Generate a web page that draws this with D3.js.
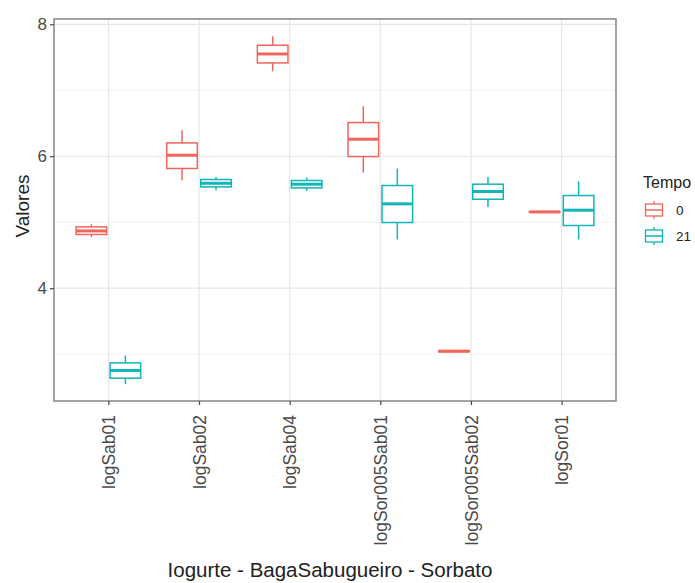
<!DOCTYPE html>
<html>
<head>
<meta charset="utf-8">
<script src="https://cdn.jsdelivr.net/npm/d3@7"></script>
<style>
  html, body { margin: 0; padding: 0; background: #fff; }
  svg text { font-family: "Liberation Sans", Arial, Helvetica, sans-serif; }
</style>
</head>
<body>
<svg id="chart" width="695" height="583"></svg>
<script>
// Treatments on the x axis
const categories = ["logSab01", "logSab02", "logSab04", "logSor005Sab01", "logSor005Sab02", "logSor01"];
// Storage time groups (days)
const tempos = ["0", "21"];

// Five-number summaries per treatment: [lower whisker, Q1, median, Q3, upper whisker]
const tempo0 = [
  [4.773, 4.814, 4.868, 4.929, 4.970],
  [5.636, 5.814, 6.015, 6.202, 6.394],
  [7.288, 7.414, 7.550, 7.682, 7.818],
  [5.753, 5.995, 6.258, 6.510, 6.758],
  [3.035, 3.037, 3.045, 3.053, 3.055],
  [5.150, 5.152, 5.156, 5.160, 5.162]
];
const tempo21 = [
  [2.545, 2.636, 2.753, 2.868, 2.980],
  [5.485, 5.535, 5.590, 5.647, 5.686],
  [5.474, 5.520, 5.576, 5.632, 5.677],
  [4.738, 4.995, 5.278, 5.556, 5.814],
  [5.232, 5.348, 5.465, 5.576, 5.686],
  [4.738, 4.950, 5.182, 5.404, 5.621]
];

const yTicks = [4, 6, 8];
const yMinor = [3, 5, 7];
const colors = ["#F0665F", "#12B5B8"];

const svg = d3.select("#chart");
const panel = { left: 54, right: 616, top: 19, bottom: 401 };

// Discrete x positions with ggplot-style expansion (0.6 of a step on each side)
const step = (panel.right - panel.left) / (categories.length - 1 + 1.2);
const xc = d3.scalePoint()
  .domain(categories)
  .range([panel.left + 0.6 * step, panel.right - 0.6 * step]);

const y = d3.scaleLinear().domain([2.29, 8.08]).range([panel.bottom, panel.top]);

// Dodge within each category
const dodge = d3.scaleBand().domain(tempos).range([-0.375 * step, 0.375 * step]).paddingInner(0);
const boxW = dodge.bandwidth() * 0.9;

const g = svg.append("g");

// minor grid
g.selectAll("line.minor").data(yMinor).join("line")
  .attr("x1", panel.left).attr("x2", panel.right)
  .attr("y1", d => y(d)).attr("y2", d => y(d))
  .attr("stroke", "#f3f3f3").attr("stroke-width", 1);

// major grid
g.selectAll("line.majorY").data(yTicks).join("line")
  .attr("x1", panel.left).attr("x2", panel.right)
  .attr("y1", d => y(d)).attr("y2", d => y(d))
  .attr("stroke", "#e6e6e6").attr("stroke-width", 1.2);
g.selectAll("line.majorX").data(categories).join("line")
  .attr("x1", d => xc(d)).attr("x2", d => xc(d))
  .attr("y1", panel.top).attr("y2", panel.bottom)
  .attr("stroke", "#e6e6e6").attr("stroke-width", 1.2);

// boxes
const series = [tempo0, tempo21];
series.forEach((vals, si) => {
  const col = colors[si];
  const grp = g.append("g");
  vals.forEach((s, i) => {
    const cx = xc(categories[i]) + dodge(tempos[si]) + dodge.bandwidth() / 2;
    const [lo, q1, med, q3, hi] = s;
    grp.append("line").attr("x1", cx).attr("x2", cx)
      .attr("y1", y(hi)).attr("y2", y(q3)).attr("stroke", col).attr("stroke-width", 1.5);
    grp.append("line").attr("x1", cx).attr("x2", cx)
      .attr("y1", y(q1)).attr("y2", y(lo)).attr("stroke", col).attr("stroke-width", 1.5);
    grp.append("rect")
      .attr("x", cx - boxW / 2).attr("width", boxW)
      .attr("y", y(q3)).attr("height", Math.max(0, y(q1) - y(q3)))
      .attr("fill", "#fff").attr("stroke", col).attr("stroke-width", 1.5);
    grp.append("line")
      .attr("x1", cx - boxW / 2).attr("x2", cx + boxW / 2)
      .attr("y1", y(med)).attr("y2", y(med))
      .attr("stroke", col).attr("stroke-width", 3);
  });
});

// panel border
g.append("rect")
  .attr("x", panel.left).attr("y", panel.top)
  .attr("width", panel.right - panel.left).attr("height", panel.bottom - panel.top)
  .attr("fill", "none").attr("stroke", "#858585").attr("stroke-width", 1.5);

// y axis
const yAxis = d3.axisLeft(y).tickValues(yTicks).tickFormat(d3.format("d")).tickSize(4).tickPadding(3);
const ya = svg.append("g").attr("transform", `translate(${panel.left},0)`).call(yAxis);
ya.select(".domain").remove();
ya.selectAll(".tick line").attr("stroke", "#444").attr("stroke-width", 1.2);
ya.selectAll(".tick text").attr("font-size", 17).attr("fill", "#4a4a4a")
  .attr("font-family", "Liberation Sans, Arial, sans-serif");

// x axis
const xAxis = d3.axisBottom(xc).tickSize(4).tickPadding(6);
const xa = svg.append("g").attr("transform", `translate(0,${panel.bottom})`).call(xAxis);
xa.select(".domain").remove();
xa.selectAll(".tick line").attr("stroke", "#444").attr("stroke-width", 1.2);
xa.selectAll(".tick text")
  .attr("font-size", 17.5).attr("fill", "#4a4a4a")
  .attr("font-family", "Liberation Sans, Arial, sans-serif")
  .attr("transform", "rotate(-90)")
  .attr("text-anchor", "end")
  .attr("x", -14).attr("y", 0).attr("dy", "0.35em");

// axis titles
svg.append("text")
  .attr("transform", `translate(${29},${206}) rotate(-90)`)
  .attr("text-anchor", "middle")
  .attr("font-size", 19).attr("fill", "#222")
  .text("Valores");
svg.append("text")
  .attr("x", 330).attr("y", 577)
  .attr("text-anchor", "middle")
  .attr("font-size", 20.5).attr("fill", "#222")
  .text("Iogurte - BagaSabugueiro - Sorbato");

// legend
const lg = svg.append("g").attr("transform", "translate(643,0)");
lg.append("text").attr("x", 0).attr("y", 188).attr("font-size", 16).attr("fill", "#222").text("Tempo");
tempos.forEach((t, i) => {
  const cy = 210 + i * 26;
  const k = lg.append("g").attr("transform", `translate(11,${cy})`);
  const col = colors[i];
  k.append("line").attr("x1", 0).attr("x2", 0).attr("y1", -9).attr("y2", 9).attr("stroke", col).attr("stroke-width", 1.3);
  k.append("rect").attr("x", -8.5).attr("y", -6).attr("width", 17).attr("height", 12)
    .attr("fill", "#fff").attr("stroke", col).attr("stroke-width", 1.3);
  k.append("line").attr("x1", -8.5).attr("x2", 8.5).attr("y1", 0).attr("y2", 0).attr("stroke", col).attr("stroke-width", 1.5);
  lg.append("text").attr("x", 33).attr("y", cy).attr("dy", "0.35em")
    .attr("font-size", 13.5).attr("fill", "#222").text(t);
});
</script>
</body>
</html>
